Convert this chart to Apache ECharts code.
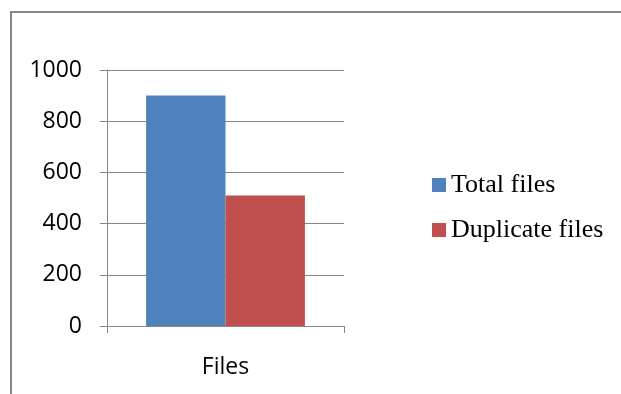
<!DOCTYPE html>
<html>
<head>
<meta charset="utf-8">
<script src="https://cdn.jsdelivr.net/npm/echarts@6/dist/echarts.min.js"></script>
<style>
  html, body { margin: 0; padding: 0; background: #fff; }
  #chart { width: 621px; height: 394px; }
</style>
</head>
<body>
<div id="chart"></div>
<script>
// Category and series data
const categories = ['Files'];
const totalFiles = [900];
const duplicateFiles = [510];
const seriesNames = ['Total files', 'Duplicate files'];
const yTicks = { min: 0, max: 1000, interval: 200 };

const axisGray = '#868686';
const chart = echarts.init(document.getElementById('chart'), null, { renderer: 'canvas' });

chart.setOption({
  animation: false,
  backgroundColor: '#ffffff',
  // Chart-area frame: only the top and left edges fall inside the view
  graphic: [
    {
      type: 'polyline',
      shape: { points: [[11, 394], [11, 12], [621, 12]] },
      style: { fill: 'none', stroke: axisGray, lineWidth: 2 },
      silent: true
    }
  ],
  grid: { left: 107, right: 277, top: 70, bottom: 68, containLabel: false },
  legend: {
    orient: 'vertical',
    left: 432,
    top: 172,
    padding: 0,
    itemWidth: 14,
    itemHeight: 14,
    itemGap: 19,
    icon: 'rect',
    data: seriesNames,
    textStyle: { fontFamily: 'Liberation Serif', fontSize: 26, color: '#000', lineHeight: 26 }
  },
  xAxis: {
    type: 'category',
    data: categories,
    axisLine: { show: true, lineStyle: { color: axisGray, width: 1 } },
    axisTick: { show: true, length: 7, lineStyle: { color: axisGray } },
    axisLabel: { margin: 30, fontFamily: 'Open Sans', fontSize: 23, color: '#000' },
    splitLine: { show: false }
  },
  yAxis: {
    type: 'value',
    min: yTicks.min,
    max: yTicks.max,
    interval: yTicks.interval,
    axisLine: { show: true, lineStyle: { color: axisGray, width: 1 } },
    axisTick: { show: true, length: 7, lineStyle: { color: axisGray } },
    axisLabel: {
      margin: 25,
      fontFamily: 'Open Sans',
      fontSize: 23,
      color: '#000',
      formatter: function (v) { return String(v); }
    },
    splitLine: { show: true, lineStyle: { color: axisGray, width: 1 } }
  },
  series: [
    {
      name: seriesNames[0],
      type: 'bar',
      data: totalFiles,
      itemStyle: { color: '#4F81BD' },
      barGap: '0%',
      barCategoryGap: '33%'
    },
    {
      name: seriesNames[1],
      type: 'bar',
      data: duplicateFiles,
      itemStyle: { color: '#C0504D' }
    }
  ]
});
</script>
</body>
</html>
